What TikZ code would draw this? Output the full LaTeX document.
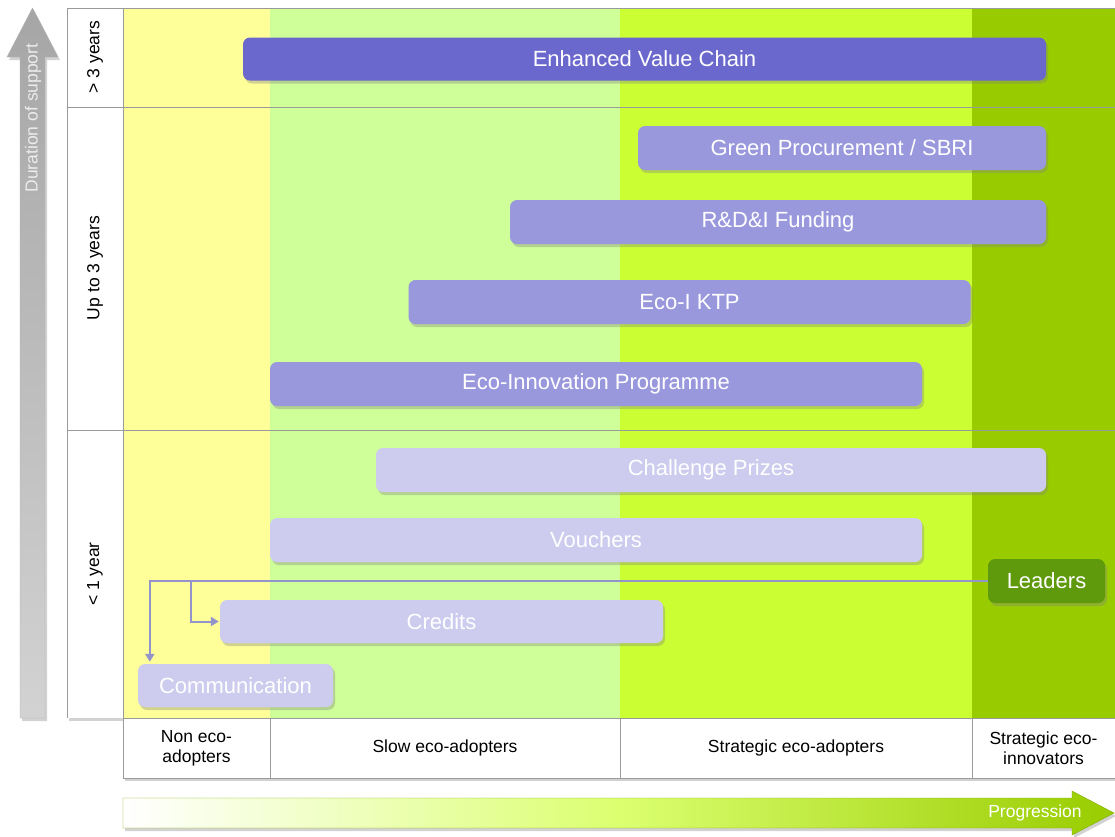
\documentclass[tikz,border=0pt]{standalone}
\usepackage{fontspec}
\setmainfont{Liberation Sans}
\usetikzlibrary{arrows.meta,shadows,calc}
\definecolor{cyel}{HTML}{FFFF99}
\definecolor{clgreen}{HTML}{CFFF99}
\definecolor{clime}{HTML}{CCFF33}
\definecolor{cdgreen}{HTML}{99CC00}
\definecolor{bardark}{HTML}{6A67CD}
\definecolor{barmid}{HTML}{9A98DD}
\definecolor{barlight}{HTML}{CDCCEE}
\definecolor{leadgreen}{HTML}{5F990C}
\definecolor{connc}{HTML}{9494CC}
\definecolor{gridc}{HTML}{9A9A9A}
\begin{document}
\begin{tikzpicture}[x=1pt,y=-1pt,
  shd/.style={drop shadow={opacity=0.35,shadow xshift=2pt,shadow yshift=-3pt}},
  bar/.style={shd,rounded corners=7pt,inner sep=0pt,text=white,
    font=\fontsize{22}{24}\selectfont},
  rowlab/.style={rotate=90,font=\fontsize{17.5}{19}\selectfont,text=black},
  collab/.style={align=center,font=\fontsize{17.5}{20}\selectfont,text=black},
  conn/.style={draw=connc,line width=2pt,-{Triangle[width=9pt,length=8pt]}}]
\useasboundingbox (0,0) rectangle (1115,836);
\fill[white] (0,0) rectangle (1115,836);

% duration arrow
\path[shd,top color=gray!70,bottom color=gray!35,draw=gray!60]
  (20,718) -- (20,57) -- (7,57) -- (32.5,8) -- (58,57) -- (45,57) -- (45,718) -- cycle;
\node[rotate=90,text=gray!15,font=\fontsize{17.5}{19}\selectfont] (dur) at (33,118) {Duration of support};

% main table
\fill[white,shd] (67,8) rectangle (1115,718);
\fill[cyel] (123,8) rectangle (270,718);
\fill[clgreen] (270,8) rectangle (620,718);
\fill[clime] (620,8) rectangle (972,718);
\fill[cdgreen] (972,8) rectangle (1115,718);
\draw[gridc,line width=0.8pt] (67,8) -- (1115,8);
\draw[gridc,line width=0.8pt] (67,718) -- (67,8);
\draw[gridc,line width=0.8pt] (123,8) -- (123,718);
\draw[gridc,line width=0.8pt] (67,107) -- (1115,107);
\draw[gridc,line width=0.8pt] (67,430) -- (1115,430);

% row labels
\node[rowlab] (r1) at (95,57) {> 3 years};
\node[rowlab] (r2) at (95,268) {Up to 3 years};
\node[rowlab] (r3) at (95,574) {< 1 year};

% bottom column labels
\fill[white,shd] (123,718) rectangle (1115,778);
\draw[gridc,line width=0.8pt] (123,718) rectangle (1115,778);
\draw[gridc,line width=0.8pt] (270,718) -- (270,778);
\draw[gridc,line width=0.8pt] (620,718) -- (620,778);
\draw[gridc,line width=0.8pt] (972,718) -- (972,778);
\node[collab] (c1) at (196.5,748) {Non eco-\\adopters};
\node[collab] (c2) at (445,748) {Slow eco-adopters};
\node[collab] (c3) at (796,748) {Strategic eco-adopters};
\node[collab] (c4) at (1043.5,748) {Strategic eco-\\innovators};

% progression arrow
\path[shd,left color=white,right color=cdgreen,middle color=clime!70!white,draw=cdgreen!85!black]
  (123,798) -- (1072,798) -- (1072,791) -- (1114,813) -- (1072,835) -- (1072,828) -- (123,828) -- cycle;
\node[text=white,font=\fontsize{17.5}{19}\selectfont] (prog) at (1035,813) {Progression};

% bars
\node[bar,fill=bardark,minimum width=803pt,minimum height=43pt] (evc) at (644.5,59) {Enhanced Value Chain};
\node[bar,fill=barmid,minimum width=408pt,minimum height=44pt] (gp) at (842,148) {Green Procurement / SBRI};
\node[bar,fill=barmid,minimum width=536pt,minimum height=44pt] (rd) at (778,222) {R\&D\&I Funding};
\node[bar,fill=barmid,minimum width=562pt,minimum height=44pt] (ktp) at (689.5,302) {Eco-I KTP};
\node[bar,fill=barmid,minimum width=652pt,minimum height=44pt] (eip) at (596,384) {Eco-Innovation Programme};
\node[bar,fill=barlight,minimum width=670pt,minimum height=44pt] (cp) at (711,470) {Challenge Prizes};
\node[bar,fill=barlight,minimum width=652pt,minimum height=44pt] (vou) at (596,540) {Vouchers};
\node[bar,fill=barlight,minimum width=443pt,minimum height=43pt] (cred) at (441.5,621.5) {Credits};
\node[bar,fill=barlight,minimum width=195pt,minimum height=43pt] (comm) at (235.5,685.5) {Communication};
\node[bar,fill=leadgreen,minimum width=117pt,minimum height=44pt] (lead) at (1046.5,581) {Leaders};

% connectors
\coordinate (br) at (191,581);
\draw[conn] (lead.west) -| ([xshift=12pt,yshift=2pt]comm.north west);
\draw[conn] (br) |- ([xshift=-1pt]cred.west);
\end{tikzpicture}
\end{document}
